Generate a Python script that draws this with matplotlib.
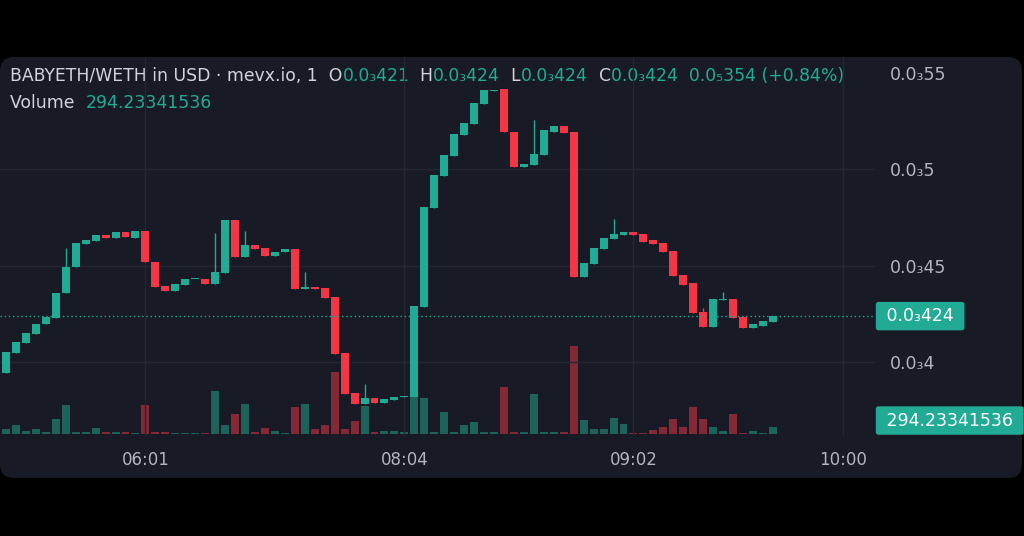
import numpy as np
import matplotlib.pyplot as plt
from matplotlib.patches import FancyBboxPatch
from matplotlib.transforms import blended_transform_factory

# prices in units of 1e-6 (shown as 0.0₃xxx), one candle per minute
opens = [394.4, 405.1, 409.9, 414.6, 419.8, 423.2, 436.1, 449.3, 461.3, 462.9,
         466.0, 464.3, 467.4, 464.6, 468.2, 452.2, 439.4, 437.2, 440.1, 443.2,
         443.2, 440.6, 446.2, 473.8, 454.5, 461.0, 459.4, 455.1, 457.0, 458.6,
         438.2, 439.2, 438.7, 434.1, 405.1, 384.1, 378.5, 381.5, 378.9, 380.6,
         382.3, 382.3, 428.9, 479.8, 496.5, 506.9, 517.8, 523.4, 533.6, 540.4,
         541.4, 519.5, 501.3, 502.2, 507.4, 519.5, 522.6, 519.5, 444.1, 451.0,
         458.9, 463.8, 466.0, 467.4, 466.4, 463.3, 462.0, 457.9, 445.3, 441.0,
         426.0, 418.5, 432.4, 432.9, 423.7, 417.7, 419.0, 421.0]
closes = [405.6, 410.5, 415.1, 420.1, 423.6, 436.1, 449.6, 461.7, 463.4, 465.8,
          464.3, 467.5, 464.8, 468.2, 452.0, 438.9, 437.2, 440.8, 443.2, 443.2,
          440.5, 446.7, 473.8, 454.5, 461.0, 458.7, 455.1, 457.3, 458.6, 438.2,
          439.2, 438.2, 433.5, 404.4, 383.7, 378.5, 381.5, 379.2, 381.0, 382.3,
          382.8, 429.2, 480.6, 497.0, 507.4, 518.1, 524.1, 534.2, 541.0, 541.0,
          519.2, 501.3, 502.7, 507.9, 520.3, 522.6, 518.6, 444.0, 451.7, 459.4,
          464.3, 466.4, 467.4, 466.0, 462.5, 461.2, 457.3, 444.8, 440.1, 425.5,
          418.5, 432.9, 432.9, 422.9, 417.7, 419.8, 421.5, 424.0]
highs = [405.6, 410.5, 415.1, 420.1, 423.6, 436.1, 459.1, 461.7, 463.4, 465.8,
         466.0, 467.5, 467.4, 468.2, 468.2, 452.2, 439.4, 440.8, 443.2, 443.2,
         443.2, 467.2, 473.8, 473.8, 468.2, 461.0, 459.4, 457.3, 458.6, 458.6,
         446.6, 439.2, 438.7, 434.1, 405.1, 384.1, 388.7, 381.5, 381.0, 382.3,
         382.8, 429.2, 480.6, 497.0, 507.4, 518.1, 524.1, 534.2, 541.0, 541.0,
         541.4, 519.5, 502.7, 525.5, 520.3, 522.6, 522.6, 519.5, 451.7, 459.4,
         464.3, 474.3, 467.4, 467.4, 466.4, 463.3, 462.0, 457.9, 445.3, 441.0,
         428.1, 432.9, 436.6, 432.9, 423.7, 419.8, 421.5, 424.0]
lows = [394.4, 405.1, 409.9, 414.6, 419.8, 423.2, 436.1, 449.3, 461.3, 462.9,
        464.3, 464.3, 464.8, 464.6, 452.0, 438.9, 437.2, 437.2, 440.1, 443.2,
        440.5, 440.6, 446.2, 454.5, 454.5, 458.7, 455.1, 455.1, 457.0, 438.2,
        438.2, 438.2, 433.5, 404.4, 383.7, 378.5, 378.5, 379.2, 378.9, 380.6,
        382.3, 382.3, 428.9, 479.8, 496.5, 506.9, 517.8, 523.4, 533.6, 540.4,
        519.2, 501.3, 501.3, 502.2, 507.4, 519.5, 518.6, 444.0, 444.1, 451.0,
        458.9, 463.8, 466.0, 466.0, 462.5, 461.2, 457.3, 444.8, 440.1, 425.5,
        418.5, 418.5, 432.4, 422.9, 417.7, 417.7, 419.0, 421.0]
volumes = [214, 355, 141, 218, 76, 584, 1119, 76, 76, 229,
           76, 103, 76, 38, 1119, 103, 76, 38, 38, 38,
           38, 1631, 355, 764, 1157, 76, 229, 141, 38, 1020,
           1135, 191, 355, 2357, 191, 508, 1058, 103, 115, 115,
           76, 1402, 1375, 76, 829, 103, 355, 470, 103, 76,
           1784, 76, 76, 1528, 103, 76, 76, 3373, 546, 218,
           191, 611, 382, 38, 38, 164, 267, 573, 294, 1031,
           573, 294, 141, 764, 38, 141, 38, 294.23341536]

price_ticks = [400, 450, 500, 550]
time_ticks = [14, 40, 63, 84]
time_labels = ['06:01', '08:04', '09:02', '10:00']

header = [("BABYETH/WETH in USD · mevx.io, 1  O", 'txt'), ("0.0₃421", 'up'),
          ("  H", 'txt'), ("0.0₃424", 'up'), ("  L", 'txt'), ("0.0₃424", 'up'),
          ("  C", 'txt'), ("0.0₃424  0.0₅354 (+0.84%)", 'up')]

UP = '#22ab94'
DOWN = '#f23645'
BG = '#181b25'
GRID = '#232733'
TXT = '#d1d4dc'
AX_TXT = '#b2b5be'
cmap = {'txt': TXT, 'up': UP}
HFS = 12.4


def fmt_price(v):
    return '0.0₃' + str(int(round(v))).rstrip('0')


o = np.array(opens); c = np.array(closes)
x = np.arange(len(o))
up = c >= o
colors = np.where(up, UP, DOWN)

fig = plt.figure(figsize=(10.24, 5.36), dpi=100, facecolor='black')

# background panel in pixel coords
bg = fig.add_axes([0, 0, 1, 1])
bg.set_xlim(0, 1024); bg.set_ylim(536, 0); bg.axis('off')
bg.add_patch(FancyBboxPatch((0, 57), 1022, 421, boxstyle='round,pad=0,rounding_size=14',
                            fc=BG, ec='none'))

rect = [0, 100 / 536, 875 / 1024, 379 / 536]
vax = fig.add_axes(rect, label='volume')
ax = fig.add_axes(rect, label='price')
for a in (vax, ax):
    a.set_facecolor('none')
    a.set_xlim(-0.6, 87.25)
    for s in a.spines.values():
        s.set_visible(False)

# volume
vax.bar(x, volumes, width=0.8, color=colors, alpha=0.5)
vax.set_ylim(-65, 14348)
vax.set_yticks([]); vax.set_xticks([])

# candles
ax.vlines(x, lows, highs, color=colors, lw=1)
ax.bar(x, np.maximum(np.abs(c - o), 0.5), bottom=np.minimum(o, c), width=0.8, color=colors)
ax.set_ylim(361.96, 558.1)
ax.axhline(closes[-1], color=UP, lw=1, ls=(0, (1, 2)))

ax.yaxis.tick_right()
ax.set_yticks(price_ticks)
ax.set_yticklabels([fmt_price(v) for v in price_ticks])
ax.set_xticks(time_ticks)
ax.set_xticklabels(time_labels)
ax.tick_params(axis='y', colors=AX_TXT, labelsize=12.5, length=0, pad=11)
ax.tick_params(axis='x', colors=AX_TXT, labelsize=12, length=0, pad=11)
ax.grid(color=GRID, lw=1)
ax.get_ygridlines()[-1].set_visible(False)  # legend row covers the top line
ax.set_axisbelow(True)

# last price / volume labels
trans = blended_transform_factory(ax.transAxes, ax.transData)
ax.annotate(' ' + fmt_price(closes[-1]) + ' ', xy=(1, closes[-1]), xycoords=trans,
            xytext=(6, 0), textcoords='offset pixels', ha='left', va='center',
            color='white', fontsize=12.5, annotation_clip=False,
            bbox=dict(boxstyle='round,pad=0.3,rounding_size=0.15', fc=UP, ec='none'))
vtrans = blended_transform_factory(vax.transAxes, vax.transData)
vax.annotate(' %.8f ' % volumes[-1], xy=(1, volumes[-1]), xycoords=vtrans,
             xytext=(6, 6), textcoords='offset pixels', ha='left', va='center',
             color='white', fontsize=12.5, annotation_clip=False,
             bbox=dict(boxstyle='round,pad=0.3,rounding_size=0.15', fc=UP, ec='none'))

# header legend
t = bg.text(10, 76, header[0][0], color=cmap[header[0][1]], fontsize=HFS, va='center')
for seg, col in header[1:]:
    t = bg.annotate(seg, xy=(1, 0), xycoords=t, va='bottom', ha='left',
                    color=cmap[col], fontsize=HFS)
t = bg.text(10, 103, 'Volume  ', color=TXT, fontsize=HFS, va='center')
bg.annotate('%.8f' % volumes[-1], xy=(1, 0), xycoords=t, va='bottom', ha='left',
            color=UP, fontsize=HFS)

fig.savefig('out.png', dpi=100, facecolor='black')
